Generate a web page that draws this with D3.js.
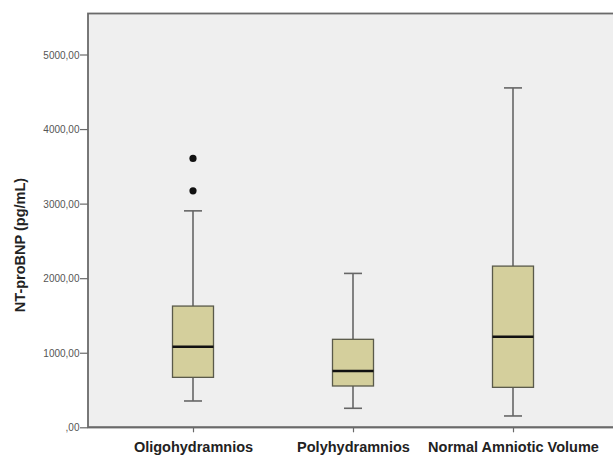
<!DOCTYPE html>
<html><head><meta charset="utf-8">
<script src="https://cdn.jsdelivr.net/npm/d3@7"></script>
<style>body{margin:0;background:#fff;}svg{display:block;}</style>
</head><body>
<svg id="c" width="613" height="456"></svg>
<script>
const categories = ["Oligohydramnios", "Polyhydramnios", "Normal Amniotic Volume"];
const whiskerLow  = [353, 255, 152];
const q1          = [670, 554, 536];
const median      = [1080, 755, 1215];
const q3          = [1626, 1180, 2162];
const whiskerHigh = [2903, 2064, 4552];
const outliers    = [[3606, 3172], [], []];
const yTicks = [0, 1000, 2000, 3000, 4000, 5000];
const yTitle = "NT-proBNP (pg/mL)";

const svg = d3.select("#c");
const L = 88, R = 618, T = 13.5, B = 427.3;
const y = d3.scaleLinear().domain([0, 5550]).range([B, T]);
const x = d3.scalePoint().domain(categories).range([193, 513]);
const boxW = 41, capW = 18;

svg.append("rect").attr("x", L).attr("y", T).attr("width", R - L).attr("height", B - T)
  .attr("fill", "#efefef").attr("stroke", "#6a6a6a").attr("stroke-width", 1.8);

const fmt = v => v === 0 ? ",00" : v.toFixed(2).replace(".", ",");
const yAxis = svg.append("g").attr("transform", `translate(${L},0)`)
  .call(d3.axisLeft(y).tickValues(yTicks).tickFormat(fmt).tickSize(8).tickPadding(0.5));
yAxis.select(".domain").remove();
yAxis.selectAll("line").attr("stroke", "#6a6a6a").attr("stroke-width", 1.2);
yAxis.selectAll("text").attr("fill", "#555").attr("font-family", "Liberation Sans, Arial, sans-serif")
  .attr("font-size", 10).attr("dy", "0.35em");

const xAxis = svg.append("g").attr("transform", `translate(0,${B})`)
  .call(d3.axisBottom(x).tickSize(5));
xAxis.select(".domain").remove();
xAxis.selectAll("line").attr("stroke", "#6a6a6a").attr("stroke-width", 1.2);
xAxis.selectAll("text").attr("fill", "#222").attr("font-family", "Liberation Sans, Arial, sans-serif")
  .attr("font-size", 14.5).attr("font-weight", "bold").attr("y", 24.5).attr("dy", 0);

svg.append("text").attr("transform", `translate(25,245) rotate(-90)`)
  .attr("text-anchor", "middle").attr("font-family", "Liberation Sans, Arial, sans-serif")
  .attr("font-size", 14.5).attr("font-weight", "bold").attr("fill", "#222").text(yTitle);

const data = categories.map((c, i) => ({c, lo: whiskerLow[i], q1: q1[i], med: median[i], q3: q3[i], hi: whiskerHigh[i], out: outliers[i]}));
const g = svg.append("g");
data.forEach(d => {
  const cx = x(d.c);
  const s = "#666";
  g.append("line").attr("x1", cx).attr("x2", cx).attr("y1", y(d.hi)).attr("y2", y(d.q3)).attr("stroke", s).attr("stroke-width", 1.6);
  g.append("line").attr("x1", cx).attr("x2", cx).attr("y1", y(d.q1)).attr("y2", y(d.lo)).attr("stroke", s).attr("stroke-width", 1.6);
  g.append("line").attr("x1", cx - capW/2).attr("x2", cx + capW/2).attr("y1", y(d.hi)).attr("y2", y(d.hi)).attr("stroke", s).attr("stroke-width", 1.6);
  g.append("line").attr("x1", cx - capW/2).attr("x2", cx + capW/2).attr("y1", y(d.lo)).attr("y2", y(d.lo)).attr("stroke", s).attr("stroke-width", 1.6);
  g.append("rect").attr("x", cx - boxW/2).attr("y", y(d.q3)).attr("width", boxW).attr("height", y(d.q1) - y(d.q3))
    .attr("fill", "#d4cf9c").attr("stroke", "#5a5a4a").attr("stroke-width", 1.3);
  g.append("line").attr("x1", cx - boxW/2).attr("x2", cx + boxW/2).attr("y1", y(d.med)).attr("y2", y(d.med)).attr("stroke", "#111").attr("stroke-width", 2.4);
  d.out.forEach(o => g.append("circle").attr("cx", cx).attr("cy", y(o)).attr("r", 3.6).attr("fill", "#111"));
});
svg.append("line").attr("x1", L).attr("x2", R).attr("y1", B).attr("y2", B).attr("stroke", "#6a6a6a").attr("stroke-width", 1.8);
</script>
</body></html>
